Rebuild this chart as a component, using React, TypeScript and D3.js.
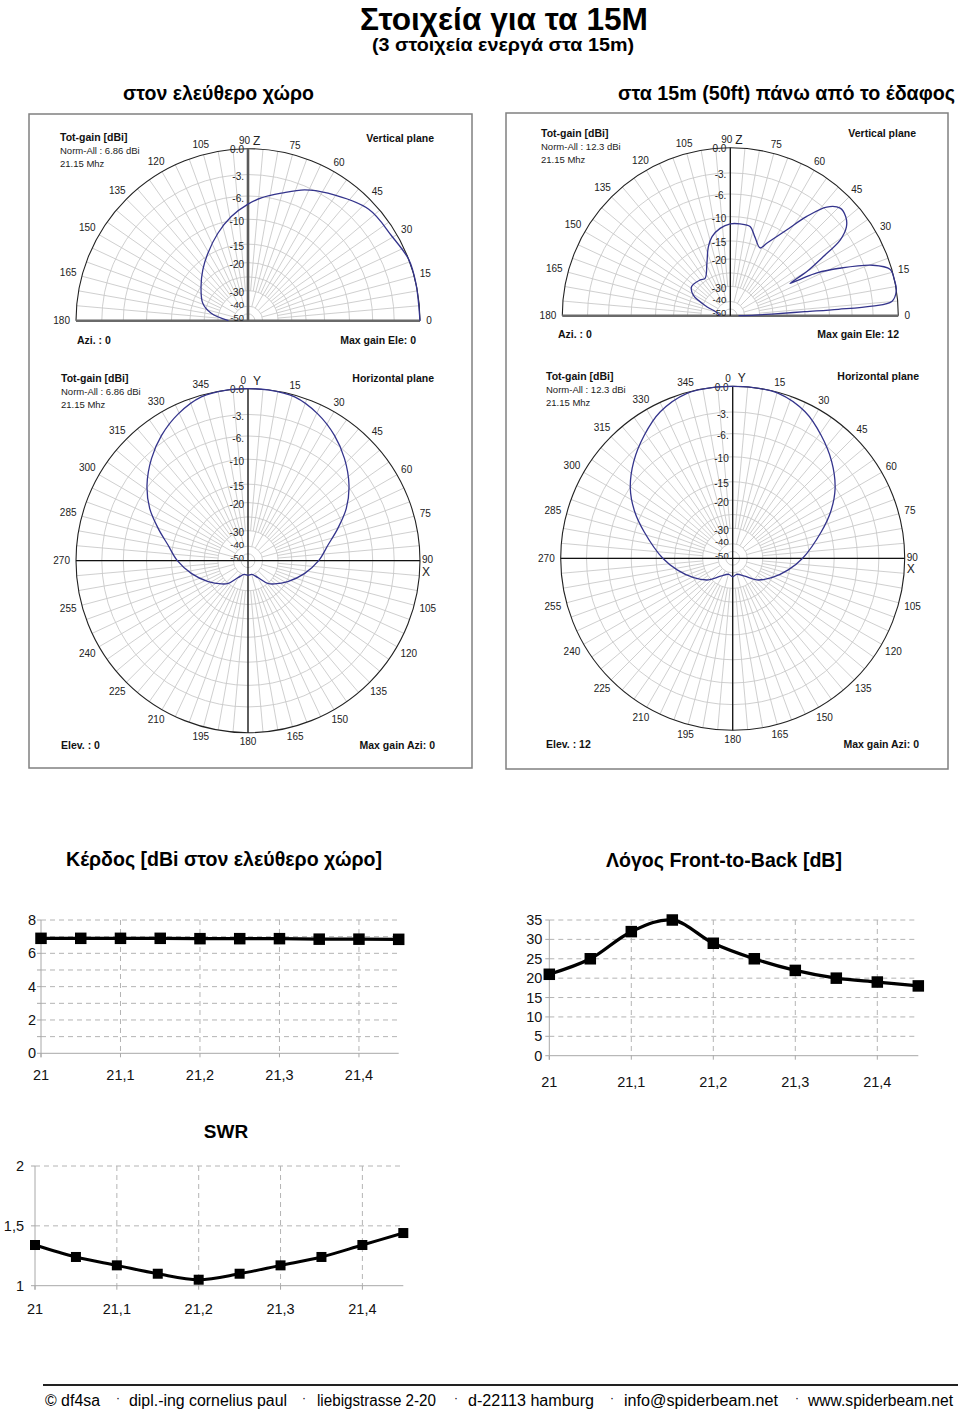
import React from "react";
import * as d3 from "d3";

// ---------------- Data ----------------
const freqs = [21, 21.05, 21.1, 21.15, 21.2, 21.25, 21.3, 21.35, 21.4, 21.45];
const gainDbi = [6.9, 6.9, 6.9, 6.9, 6.88, 6.88, 6.88, 6.85, 6.85, 6.84];
const fbRatio = [21, 25, 32, 35, 29, 25, 22, 20, 19, 18];
const swrValues = [1.34, 1.24, 1.17, 1.1, 1.05, 1.1, 1.17, 1.24, 1.34, 1.44];
const freqTicks = [21, 21.1, 21.2, 21.3, 21.4];
const gainGrid = [0, 1, 2, 3, 4, 5, 6, 7, 8];
const gainLabels = [0, 2, 4, 6, 8];
const fbGrid = [0, 5, 10, 15, 20, 25, 30, 35];
const swrGrid = [1, 1.5, 2];

const ringDb = [0, -3, -6, -10, -15, -20, -25, -30, -40, -50];
const ringLabelDb = [0, -3, -6, -10, -15, -20, -30, -40, -50];
const ringLabels = ["0.0", "-3.", "-6.", "-10", "-15", "-20", "-30", "-40", "-50"];
const elevLabels = [0, 15, 30, 45, 60, 75, 90, 105, 120, 135, 150, 165, 180];
const aziLabels = [0, 15, 30, 45, 60, 75, 90, 105, 120, 135, 150, 165, 180, 195, 210, 225, 240, 255, 270, 285, 300, 315, 330, 345];

// free space, vertical plane (elevation deg, dB)
const freeVertElev = [0, 12.5, 20.8, 30.4, 42.7, 57.9, 66.6, 75.3, 83.8, 90, 99.1, 109, 120.7, 131.6, 143.9, 159, 168.7, 180];
const freeVertGain = [0, 0, 0, -0.6, -0.9, -2.5, -3.5, -5.0, -6.2, -7.4, -9.3, -11.8, -14.6, -17.3, -20, -23.4, -27.3, -36.8];
// 15 m above ground, vertical plane
const groundVertElev = [0, 1.5, 2.3, 3.1, 3.4, 3.9, 5, 8.7, 12, 16.2, 19.5, 23.5, 26.3, 27.4, 28.4, 30, 32.4, 34.6, 37.4, 40.6, 44.4, 48.4, 52.4, 56.7, 63.3, 66.2, 72.7, 77.5, 84, 90, 96.7, 103, 107.7, 114, 124, 130, 143, 151, 159, 165, 180];
const groundVertGain = [-48, -33, -25.5, -15, -8.4, -3.1, -0.7, 0, 0, -0.2, -2, -6.5, -10.5, -13.8, -16.9, -12.2, -8.1, -4.3, -2.6, -1.9, -1.7, -2.7, -5.5, -9.4, -13.7, -15.2, -13.4, -11.6, -11.4, -11.5, -12.3, -13.7, -15.7, -19.8, -24.2, -23.6, -23.0, -25.2, -32.8, -39.5, -45];
// free space, horizontal plane (azimuth 0..180, symmetric)
const freeHorzAzi = [0, 6.7, 15.9, 25.4, 34.6, 43.4, 53.2, 62, 70.2, 78.9, 90, 102.6, 117.7, 131.2, 139, 150, 165, 180];
const freeHorzGain = [0, 0, -0.2, -1.1, -2.3, -3.8, -5.8, -8.3, -11.2, -14.0, -16.6, -20, -24.6, -28.1, -30, -37, -40.5, -40];
// 15 m above ground, horizontal plane (elev 12)
const groundHorzAzi = [0, 6.3, 15.5, 26.3, 35.8, 45.7, 55.6, 64.6, 73.3, 90, 101.8, 116.4, 132, 146, 166, 180];
const groundHorzGain = [0, 0, -0.1, -1.0, -2.4, -4.1, -6.1, -8.8, -11.8, -16.8, -20.5, -25.1, -29.2, -35.5, -38.8, -37.5];

// ---------------- Helpers ----------------
const SANS = "'Liberation Sans', Arial, Helvetica, sans-serif";
const NARROW = "'Liberation Sans Narrow', 'Arial Narrow', 'Liberation Sans', Arial, sans-serif";

const radFrac = d3
  .scaleLinear()
  .domain([-50, -40, -30, -25, -20, -15, -10, -6, -3, 0])
  .range([0.04, 0.085, 0.175, 0.255, 0.338, 0.445, 0.59, 0.725, 0.85, 1])
  .clamp(true);

type Info = {
  tx: number; ty: number; norm: string; plane: string; planeX: number; planeY: number;
  blText: string; blX: number; brText: string; brX: number; bY: number;
};

function PolarPlot(props: {
  cx: number; cy: number; R: number; kind: "vertical" | "horizontal";
  angles: number[]; gains: number[]; info: Info; ground?: boolean;
}) {
  const { cx, cy, R, kind, angles, gains, info, ground } = props;
  const half = kind === "vertical";
  const rs = (db: number) => radFrac(db) * R;
  const grid = "#c9c9c9";
  const toMath = (a: number) => (half ? a : 90 - a);
  const pt = (mathDeg: number, r: number): [number, number] => {
    const t = (mathDeg * Math.PI) / 180;
    return [cx + r * Math.cos(t), cy - r * Math.sin(t)];
  };

  const ringPath = (r: number) =>
    half
      ? `M${cx - r},${cy} A${r},${r} 0 0 1 ${cx + r},${cy}`
      : `M${cx - r},${cy} A${r},${r} 0 1 1 ${cx + r},${cy} A${r},${r} 0 1 1 ${cx - r},${cy}`;

  const spokeAngles = d3.range(0, half ? 181 : 360, 5);

  let pts: [number, number][];
  if (half) {
    pts = angles.map((a, i) => [((90 - a) * Math.PI) / 180, rs(gains[i])]);
  } else {
    const fwd: [number, number][] = angles.map((a, i) => [(a * Math.PI) / 180, rs(gains[i])]);
    const back: [number, number][] = [];
    for (let i = angles.length - 2; i >= 1; i--) back.push([((360 - angles[i]) * Math.PI) / 180, rs(gains[i])]);
    pts = fwd.concat(back);
  }
  const line = d3
    .lineRadial<[number, number]>()
    .angle((d) => d[0])
    .radius((d) => d[1])
    .curve(half ? d3.curveCatmullRom.alpha(0.5) : d3.curveCatmullRomClosed.alpha(0.5));

  const labels = half ? elevLabels : aziLabels;

  const vAxisColor = half ? (ground ? "#111" : "#5a5a5a") : "#111";
  const vAxisW = half ? (ground ? 1.3 : 2.6) : 1.3;
  const hAxisColor = half ? "#6a6a6a" : "#111";
  const hAxisW = half ? 2.6 : 1.3;
  const ringLabelShift = (db: number) => (db === 0 ? 1 : db === -40 ? -2 : db === -50 ? 4 : 2);

  return (
    <g>
      {ringDb.slice(1).map((db) => (
        <path key={"r" + db} d={ringPath(rs(db))} fill="none" stroke={grid} strokeWidth={0.9} />
      ))}
      {spokeAngles.map((a) => {
        const m = toMath(a);
        const r0 = a % 15 === 0 ? rs(-40) : rs(-30);
        const [x0, y0] = pt(m, r0);
        const [x1, y1] = pt(m, R);
        return <line key={"s" + a} x1={x0} y1={y0} x2={x1} y2={y1} stroke={grid} strokeWidth={0.9} />;
      })}
      <path d={ringPath(R)} fill="none" stroke="#222" strokeWidth={1.1} />
      <line x1={cx - R} y1={cy} x2={cx + R} y2={cy} stroke={hAxisColor} strokeWidth={hAxisW} />
      <line x1={cx} y1={cy - R} x2={cx} y2={half ? cy : cy + R} stroke={vAxisColor} strokeWidth={vAxisW} />
      {ringLabelDb.map((db, i) => (
        <text
          key={"rl" + db}
          x={cx - 4}
          y={cy - rs(db) + ringLabelShift(db)}
          textAnchor="end"
          dominantBaseline="central"
          fontFamily={SANS}
          fontSize={db <= -40 ? 9.5 : 10}
          fill="#222"
        >
          {ringLabels[i]}
        </text>
      ))}
      <path d={line(pts) || ""} transform={`translate(${cx},${cy})`} fill="none" stroke="#34348c" strokeWidth={1.3} />
      {labels.map((a) => {
        const m = toMath(a);
        const s = String(a);
        const fs = 10;
        if ((half && a === 90) || (!half && a === 0)) {
          return (
            <g key={"al" + a}>
              <text x={cx + (half ? 2 : -2)} y={cy - R - 8} textAnchor="end" dominantBaseline="central" fontFamily={SANS} fontSize={fs} fill="#222">
                {s}
              </text>
              <text x={cx + 5} y={cy - R - 8} textAnchor="start" dominantBaseline="central" fontFamily={SANS} fontSize={12} fill="#222">
                {half ? "Z" : "Y"}
              </text>
            </g>
          );
        }
        if (!half && a === 90) {
          return (
            <g key={"al" + a}>
              <text x={cx + R + 2} y={cy - 1} textAnchor="start" dominantBaseline="central" fontFamily={SANS} fontSize={fs} fill="#222">
                90
              </text>
              <text x={cx + R + 2} y={cy + 11} textAnchor="start" dominantBaseline="central" fontFamily={SANS} fontSize={12} fill="#222">
                X
              </text>
            </g>
          );
        }
        const t = (m * Math.PI) / 180;
        const w = s.length * fs * 0.556;
        const rr = R + 9 + Math.max(0, w / 2 - 3) * Math.abs(Math.cos(t));
        const [x, y] = pt(m, rr);
        return (
          <text key={"al" + a} x={x} y={y} textAnchor="middle" dominantBaseline="central" fontFamily={SANS} fontSize={fs} fill="#222">
            {s}
          </text>
        );
      })}
      <text x={info.tx} y={info.ty} fontFamily={SANS} fontSize={10.5} fontWeight="bold" fill="#111">
        Tot-gain [dBi]
      </text>
      <text x={info.tx} y={info.ty + 13} fontFamily={SANS} fontSize={9.5} fill="#222">
        {info.norm}
      </text>
      <text x={info.tx} y={info.ty + 26} fontFamily={SANS} fontSize={9.5} fill="#222">
        21.15 Mhz
      </text>
      <text x={info.planeX} y={info.planeY} textAnchor="end" fontFamily={SANS} fontSize={10.5} fontWeight="bold" fill="#111">
        {info.plane}
      </text>
      <text x={info.blX} y={info.bY} fontFamily={SANS} fontSize={10.5} fontWeight="bold" fill="#111">
        {info.blText}
      </text>
      <text x={info.brX} y={info.bY} textAnchor="end" fontFamily={SANS} fontSize={10.5} fontWeight="bold" fill="#111">
        {info.brText}
      </text>
    </g>
  );
}

function LineChart(props: {
  xLeft: number; xRight: number; yTop: number; yBottom: number; yDomain: [number, number];
  grid: number[]; labels: number[]; values: number[]; smooth: boolean; marker: number; lineW: number;
  labelGap: number; xLabelY: number; fontSize: number;
}) {
  const { xLeft, xRight, yTop, yBottom, yDomain, grid, labels, values, smooth, marker, lineW, labelGap, xLabelY, fontSize } = props;
  const x = d3.scaleLinear().domain([21, 21.45]).range([xLeft, xRight]);
  const y = d3.scaleLinear().domain(yDomain).range([yBottom, yTop]);
  const fmt = (v: number) => String(v).replace(".", ",");
  const line = d3
    .line<number>()
    .x((_, i) => x(freqs[i]))
    .y((d) => y(d))
    .curve(smooth ? d3.curveCatmullRom.alpha(0.5) : d3.curveLinear);
  const axisC = "#a8a8a8";
  const gridC = "#b4b4b4";
  return (
    <g>
      {grid
        .filter((g) => g !== yDomain[0])
        .map((g) => (
          <line key={"h" + g} x1={xLeft} x2={xRight} y1={y(g)} y2={y(g)} stroke={gridC} strokeDasharray="5,4" strokeWidth={1} />
        ))}
      {freqTicks
        .filter((f) => f !== 21)
        .map((f) => (
          <line key={"v" + f} x1={x(f)} x2={x(f)} y1={yTop} y2={yBottom} stroke={gridC} strokeDasharray="5,4" strokeWidth={1} />
        ))}
      <line x1={xLeft} x2={xLeft} y1={yTop} y2={yBottom + 4} stroke={axisC} strokeWidth={1} />
      <line x1={xLeft} x2={xRight} y1={yBottom} y2={yBottom} stroke={axisC} strokeWidth={1} />
      {grid.map((g) => (
        <line key={"yt" + g} x1={xLeft - 4} x2={xLeft} y1={y(g)} y2={y(g)} stroke={axisC} strokeWidth={1} />
      ))}
      {freqTicks.map((f) => (
        <line key={"xt" + f} x1={x(f)} x2={x(f)} y1={yBottom} y2={yBottom + 4} stroke={axisC} strokeWidth={1} />
      ))}
      {labels.map((v) => (
        <text key={"yl" + v} x={xLeft - labelGap} y={y(v)} textAnchor="end" dominantBaseline="central" fontFamily={SANS} fontSize={fontSize} fill="#111">
          {fmt(v)}
        </text>
      ))}
      {freqTicks.map((f) => (
        <text key={"xl" + f} x={x(f)} y={xLabelY} textAnchor="middle" dominantBaseline="central" fontFamily={SANS} fontSize={fontSize} fill="#111">
          {fmt(f)}
        </text>
      ))}
      <path d={line(values) || ""} fill="none" stroke="#000" strokeWidth={lineW} strokeLinejoin="round" />
      {values.map((v, i) => (
        <rect key={"m" + i} x={x(freqs[i]) - marker / 2} y={y(v) - marker / 2} width={marker} height={marker} fill="#000" />
      ))}
    </g>
  );
}

const footerItems = [
  { t: "© df4sa", x: 45, w: 55 },
  { t: "dipl.-ing cornelius paul", x: 129, w: 158 },
  { t: "liebigstrasse 2-20", x: 317, w: 119 },
  { t: "d-22113 hamburg", x: 468, w: 126 },
  { t: "info@spiderbeam.net", x: 624, w: 154 },
  { t: "www.spiderbeam.net", x: 808, w: 145 },
];
const footerDots = [118, 304, 456, 612, 797];

export default function App() {
  return (
    <svg width={960} height={1412} style={{ position: "absolute", left: 0, top: 0, background: "#fff" }}>
      <rect x={0} y={0} width={960} height={1412} fill="#fff" />
      <text x={360} y={29.5} fontFamily={NARROW} fontWeight="bold" fontSize={32} textLength={288} lengthAdjust="spacingAndGlyphs" fill="#000">
        Στοιχεία για τα 15M
      </text>
      <text x={372} y={51} fontFamily={NARROW} fontWeight="bold" fontSize={18} textLength={262} lengthAdjust="spacingAndGlyphs" fill="#000">
        (3 στοιχεία ενεργά στα 15m)
      </text>
      <text x={123} y={100} fontFamily={NARROW} fontWeight="bold" fontSize={20} textLength={191} lengthAdjust="spacingAndGlyphs" fill="#000">
        στον ελεύθερο χώρο
      </text>
      <text x={618} y={100} fontFamily={NARROW} fontWeight="bold" fontSize={20} textLength={337} lengthAdjust="spacingAndGlyphs" fill="#000">
        στα 15m (50ft) πάνω από το έδαφος
      </text>

      <rect x={29} y={114} width={443} height={654} fill="#fff" stroke="#808080" strokeWidth={1.5} />
      <rect x={506} y={113} width={442} height={656} fill="#fff" stroke="#808080" strokeWidth={1.5} />

      <PolarPlot
        cx={248} cy={320.7} R={172} kind="vertical" angles={freeVertElev} gains={freeVertGain}
        info={{ tx: 60, ty: 141, norm: "Norm-All : 6.86 dBi", plane: "Vertical plane", planeX: 434, planeY: 142, blText: "Azi. : 0", blX: 77, brText: "Max gain Ele: 0", brX: 416, bY: 344 }}
      />
      <PolarPlot
        cx={730.3} cy={315.7} R={168} kind="vertical" ground angles={groundVertElev} gains={groundVertGain}
        info={{ tx: 541, ty: 137, norm: "Norm-All : 12.3 dBi", plane: "Vertical plane", planeX: 916, planeY: 137, blText: "Azi. : 0", blX: 558, brText: "Max gain Ele: 12", brX: 899, bY: 338 }}
      />
      <PolarPlot
        cx={248} cy={560.7} R={172} kind="horizontal" angles={freeHorzAzi} gains={freeHorzGain}
        info={{ tx: 61, ty: 381.5, norm: "Norm-All : 6.86 dBi", plane: "Horizontal plane", planeX: 434, planeY: 382, blText: "Elev. : 0", blX: 61, brText: "Max gain Azi: 0", brX: 435, bY: 749 }}
      />
      <PolarPlot
        cx={732.7} cy={558.3} R={172} kind="horizontal" angles={groundHorzAzi} gains={groundHorzGain}
        info={{ tx: 546, ty: 380, norm: "Norm-All : 12.3 dBi", plane: "Horizontal plane", planeX: 919, planeY: 380, blText: "Elev. : 12", blX: 546, brText: "Max gain Azi: 0", brX: 919, bY: 747.5 }}
      />

      <text x={66} y={866} fontFamily={NARROW} fontWeight="bold" fontSize={20} textLength={316} lengthAdjust="spacingAndGlyphs" fill="#000">
        Κέρδος [dBi στον ελεύθερο χώρο]
      </text>
      <text x={606} y={867} fontFamily={NARROW} fontWeight="bold" fontSize={20} textLength={236} lengthAdjust="spacingAndGlyphs" fill="#000">
        Λόγος Front-to-Back [dB]
      </text>
      <text x={226} y={1138} textAnchor="middle" fontFamily={SANS} fontWeight="bold" fontSize={19} fill="#000">
        SWR
      </text>

      <LineChart xLeft={41} xRight={398.7} yTop={920} yBottom={1053.3} yDomain={[0, 8]} grid={gainGrid} labels={gainLabels}
        values={gainDbi} smooth={false} marker={11.5} lineW={3.3} labelGap={5} xLabelY={1075} fontSize={14.5} />
      <LineChart xLeft={549.3} xRight={918.3} yTop={920} yBottom={1055.7} yDomain={[0, 35]} grid={fbGrid} labels={fbGrid}
        values={fbRatio} smooth={true} marker={11.5} lineW={3.3} labelGap={7} xLabelY={1081.5} fontSize={14.5} />
      <LineChart xLeft={35} xRight={403.3} yTop={1166} yBottom={1285.7} yDomain={[1, 2]} grid={swrGrid} labels={swrGrid}
        values={swrValues} smooth={true} marker={10} lineW={3} labelGap={11} xLabelY={1309} fontSize={14.5} />

      <line x1={43} x2={958} y1={1385} y2={1385} stroke="#222" strokeWidth={2} />
      {footerItems.map((f) => (
        <text key={f.t} x={f.x} y={1406} fontFamily={NARROW} fontSize={16} textLength={f.w} lengthAdjust="spacingAndGlyphs" fill="#000">
          {f.t}
        </text>
      ))}
      {footerDots.map((d) => (
        <text key={"d" + d} x={d} y={1402} textAnchor="middle" fontFamily={SANS} fontSize={12} fill="#000">
          ·
        </text>
      ))}
    </svg>
  );
}
